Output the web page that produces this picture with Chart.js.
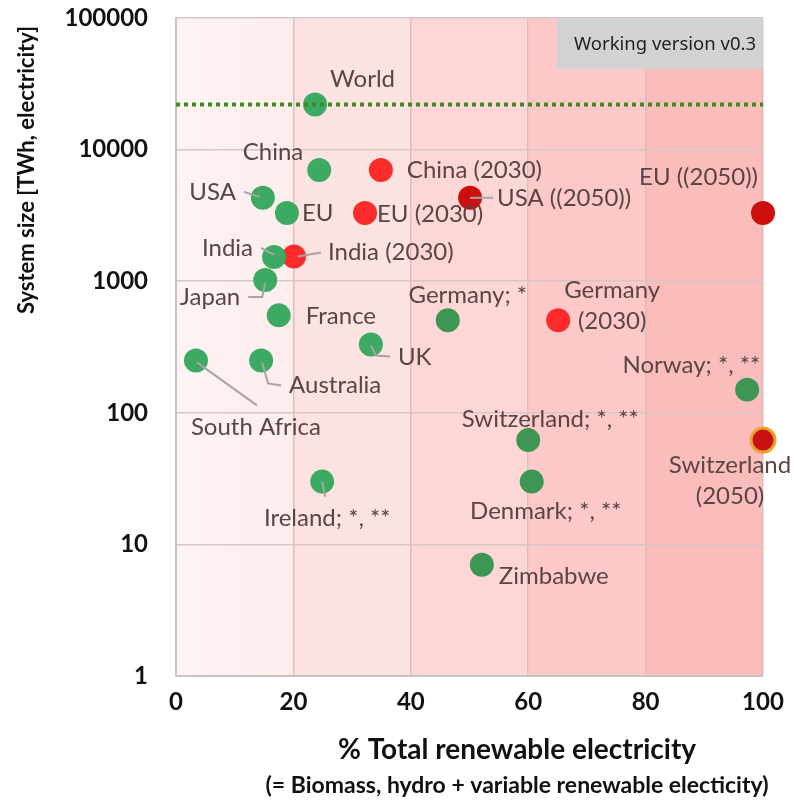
<!DOCTYPE html>
<html>
<head>
<meta charset="utf-8">
<script src="https://cdn.jsdelivr.net/npm/chart.js@4.4.1/dist/chart.umd.min.js"></script>
<style>
  html, body { margin: 0; padding: 0; background: #fff; }
  #wrap { position: relative; width: 794px; height: 802px; }
</style>
</head>
<body>
<div id="wrap"><canvas id="sizeChart"></canvas></div>
<script>
// Current systems: share of renewable electricity (%) and system size (TWh)
const todayNames = ['World', 'China', 'USA', 'EU', 'India', 'Japan', 'France', 'UK', 'Australia',
  'South Africa', 'Ireland; *, **', 'Germany; *', 'Switzerland; *, **', 'Denmark; *, **', 'Zimbabwe', 'Norway; *, **'];
const todayShare = [23.7, 24.4, 14.8, 18.9, 16.7, 15.2, 17.5, 33.2, 14.5, 3.4, 24.9, 46.3, 60.0, 60.6, 52.1, 97.3];
const todaySize = [22000, 7000, 4300, 3300, 1530, 1020, 550, 330, 250, 250, 30, 505, 62, 30, 7, 150];

// 2030 targets
const target2030Names = ['China (2030)', 'EU (2030)', 'India (2030)', 'Germany (2030)'];
const target2030Share = [34.9, 32.2, 20.1, 65.1];
const target2030Size = [7000, 3300, 1540, 505];

// 2050 targets
const target2050Names = ['USA ((2050))', 'EU ((2050))', 'Switzerland (2050)'];
const target2050Share = [50.1, 100, 100];
const target2050Size = [4300, 3300, 62];

// World system size reference line
const worldLineSize = 22000;

const xTicks = [0, 20, 40, 60, 80, 100];
const yTicks = [1, 10, 100, 1000, 10000, 100000];
const bandEdges = [0, 20, 40, 60, 80, 100];
const bandColors = ['#fdeded', '#fde2e2', '#fdd6d6', '#fcc8c8', '#fbbcbc'];

// where each label sits relative to its dot: offset, alignment, optional leader polyline
const labelLayout = {
  'World': { dx: 15, dy: -25, align: 'left' },
  'China': { dx: -16, dy: -18, align: 'right' },
  'USA': { dx: -27, dy: -6, align: 'right', leader: [[-19, -6], [-3, -1]] },
  'EU': { dx: 15, dy: 0, align: 'left' },
  'India': { dx: -21, dy: -9, align: 'right', leader: [[-13, -9], [0, -2]] },
  'Japan': { dx: -25, dy: 17, align: 'right', leader: [[-17, 17], [-3, 17], [0, 3]] },
  'France': { dx: 27, dy: 1, align: 'left' },
  'UK': { dx: 27, dy: 13, align: 'left', leader: [[0, 1], [5, 11], [19, 12]] },
  'Australia': { dx: 28, dy: 25, align: 'left', leader: [[1, 2], [7, 23], [20, 25]] },
  'South Africa': { dx: 60, dy: 67, align: 'center', leader: [[1, 2], [61, 45]] },
  'Ireland; *, **': { dx: 5, dy: 37, align: 'center', leader: [[0, 0], [3, 15]] },
  'Germany; *': { dx: 20, dy: -25, align: 'center' },
  'Switzerland; *, **': { dx: 22, dy: -21, align: 'center' },
  'Denmark; *, **': { dx: 14, dy: 30, align: 'center' },
  'Zimbabwe': { dx: 17, dy: 11, align: 'left' },
  'Norway; *, **': { dx: 13, dy: -24, align: 'right' },
  'China (2030)': { dx: 26, dy: 0, align: 'left' },
  'EU (2030)': { dx: 12, dy: 1, align: 'left' },
  'India (2030)': { dx: 34, dy: -4, align: 'left', leader: [[4, 0], [27, -4]] },
  'Germany (2030)': { dx: 54, dy: -30, align: 'center', wrap: true },
  'USA ((2050))': { dx: 27, dy: 0, align: 'left', leader: [[0, 0], [23, 0]] },
  'EU ((2050))': { dx: -5, dy: -36, align: 'right' },
  'Switzerland (2050)': { dx: -33, dy: 25, align: 'center', wrap: true }
};

function toPoints(xs, ys) {
  return xs.map((x, i) => ({ x: x, y: ys[i] }));
}

// coloured vertical bands behind the plot
const bands = {
  id: 'bands',
  beforeDraw(chart) {
    const { ctx, chartArea, scales } = chart;
    ctx.save();
    for (let i = 0; i < bandColors.length; i++) {
      const x0 = scales.x.getPixelForValue(bandEdges[i]);
      const x1 = scales.x.getPixelForValue(bandEdges[i + 1]);
      if (i === 0) {
        const g = ctx.createLinearGradient(x0, 0, x1, 0);
        g.addColorStop(0, '#fff3f3');
        g.addColorStop(1, bandColors[0]);
        ctx.fillStyle = g;
      } else {
        ctx.fillStyle = bandColors[i];
      }
      ctx.fillRect(x0, chartArea.top, x1 - x0, chartArea.bottom - chartArea.top);
    }
    ctx.restore();
  }
};

// data labels with leader lines
const pointLabels = {
  id: 'pointLabels',
  afterDatasetsDraw(chart) {
    const ctx = chart.ctx;
    ctx.save();
    ctx.font = '24px Lato';
    ctx.textBaseline = 'middle';
    chart.data.datasets.forEach((ds, di) => {
      if (!ds.names) return;
      const meta = chart.getDatasetMeta(di);
      ds.names.forEach((name, i) => {
        const el = meta.data[i];
        const lay = labelLayout[name];
        if (!el || !lay) return;
        if (lay.leader) {
          ctx.strokeStyle = '#a9a3a3';
          ctx.lineWidth = 2;
          ctx.beginPath();
          lay.leader.forEach(([lx, ly], k) => {
            if (k === 0) ctx.moveTo(el.x + lx, el.y + ly);
            else ctx.lineTo(el.x + lx, el.y + ly);
          });
          ctx.stroke();
        }
        const lines = lay.wrap ? name.split(' ') : [name];
        ctx.fillStyle = '#5b4444';
        ctx.textAlign = lay.align;
        lines.forEach((line, k) => {
          ctx.fillText(line, el.x + lay.dx, el.y + lay.dy + k * 31);
        });
      });
    });
    ctx.restore();
  },
  afterDraw(chart) {
    const { ctx, chartArea } = chart;
    ctx.save();
    // version tag
    ctx.fillStyle = '#d2d2d2';
    ctx.fillRect(chartArea.right - 206, chartArea.top, 206, 51);
    ctx.fillStyle = '#222';
    ctx.font = '18.5px "Noto Sans"';
    ctx.textAlign = 'right';
    ctx.textBaseline = 'middle';
    ctx.fillText('Working version v0.3', chartArea.right - 7, chartArea.top + 27);

    // axis titles
    ctx.fillStyle = '#111';
    ctx.textAlign = 'center';
    ctx.font = 'bold 28px Lato';
    ctx.fillText('% Total renewable electricity', 517, 750);
    ctx.font = 'bold 23px Lato';
    ctx.fillText('(= Biomass, hydro + variable renewable electicity)', 517, 786);

    ctx.translate(27, 170);
    ctx.rotate(-Math.PI / 2);
    ctx.font = 'bold 22px Lato';
    ctx.fillText('System size [TWh, electricity]', 0, 0);
    ctx.restore();
  }
};

new Chart(document.getElementById('sizeChart'), {
  type: 'scatter',
  data: {
    datasets: [
      {
        type: 'line',
        label: 'World',
        data: [{ x: xTicks[0], y: worldLineSize }, { x: xTicks[xTicks.length - 1], y: worldLineSize }],
        borderColor: '#3e8d1c',
        borderWidth: 4,
        borderDash: [4, 4],
        pointRadius: 0,
        fill: false,
        order: 0
      },
      {
        label: 'Today',
        names: todayNames,
        data: toPoints(todayShare, todaySize),
        backgroundColor: todayShare.map(s => s >= 40 ? '#3d9654' : '#3caa62'),
        borderWidth: 0,
        pointRadius: 12,
        order: 2
      },
      {
        label: '2030',
        names: target2030Names,
        data: toPoints(target2030Share, target2030Size),
        backgroundColor: '#fd2b2b',
        borderWidth: 0,
        pointRadius: 12,
        order: 2
      },
      {
        label: '2050',
        names: target2050Names,
        data: toPoints(target2050Share, target2050Size),
        backgroundColor: '#cc0f0f',
        borderColor: target2050Names.map(n => n.startsWith('Switzerland') ? '#e4a52a' : '#cc0f0f'),
        borderWidth: target2050Names.map(n => n.startsWith('Switzerland') ? 3 : 0),
        pointRadius: 12,
        order: 2
      }
    ]
  },
  options: {
    responsive: true,
    maintainAspectRatio: false,
    animation: false,
    events: [],
    clip: false,
    layout: { padding: { top: 18, right: 31, left: 0, bottom: 0 } },
    plugins: {
      legend: { display: false },
      tooltip: { enabled: false }
    },
    scales: {
      x: {
        type: 'linear',
        min: 0,
        max: 100,
        afterBuildTicks: scale => { scale.ticks = xTicks.map(v => ({ value: v })); },
        afterFit: scale => {
          scale.height = 126;
          scale.paddingLeft = 0;
          scale.paddingRight = 0;
        },
        grid: { color: '#d8bfbf', lineWidth: 1.5, drawTicks: false },
        border: { color: '#c9c2c2', width: 2 },
        ticks: { color: '#111', padding: 12, font: { family: 'Lato', weight: 'bold', size: 24 } }
      },
      y: {
        type: 'logarithmic',
        min: 1,
        max: 100000,
        afterBuildTicks: scale => { scale.ticks = yTicks.map(v => ({ value: v })); },
        afterFit: scale => {
          scale.width = 176;
          scale.paddingTop = 0;
          scale.paddingBottom = 0;
        },
        grid: { color: '#d8c5c5', lineWidth: 1.5, drawTicks: false },
        border: { color: '#c9c2c2', width: 2 },
        ticks: {
          color: '#111',
          padding: 28,
          font: { family: 'Lato', weight: 'bold', size: 24 },
          callback: v => String(v)
        }
      }
    }
  },
  plugins: [bands, pointLabels]
});
</script>
</body>
</html>
